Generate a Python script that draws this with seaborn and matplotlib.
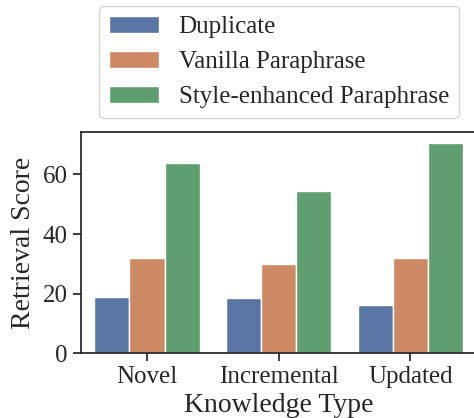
import numpy as np
import pandas as pd
import matplotlib
matplotlib.use('Agg')
import matplotlib.pyplot as plt
import seaborn as sns

sns.set_theme(style='ticks', palette='deep')
plt.rcParams['font.family'] = ['Liberation Serif', 'DejaVu Serif']
plt.rcParams['font.size'] = 18

# --- Data ---
categories = ['Novel', 'Incremental', 'Updated']
methods = ['Duplicate', 'Vanilla Paraphrase', 'Style-enhanced Paraphrase']
duplicate = [18.8, 18.5, 16.2]
vanilla = [32.1, 30.1, 32.1]
style_enh = [63.7, 54.6, 70.7]

df = pd.DataFrame({
    'Knowledge Type': categories * 3,
    'Method': [methods[0]] * 3 + [methods[1]] * 3 + [methods[2]] * 3,
    'Retrieval Score': duplicate + vanilla + style_enh,
})

fig = plt.figure(figsize=(4.74, 4.18), dpi=100)
ax = fig.add_axes([0.171, 0.155, 0.834, 0.529])

sns.barplot(data=df, x='Knowledge Type', y='Retrieval Score', hue='Method',
            hue_order=methods, order=categories, ax=ax, errorbar=None)

ax.set_xlim(-0.5, 2.5)
ax.set_yticks([0, 20, 40, 60])
ax.tick_params(labelsize=18)
ax.set_xlabel('Knowledge Type', fontsize=20, labelpad=3)
ax.set_ylabel('Retrieval Score', fontsize=20, labelpad=5)

ax.legend(loc='lower center', bbox_to_anchor=(0.5, 1.063), borderaxespad=0,
          fontsize=18, title=None, frameon=True)

fig.savefig('out.png', dpi=100)
